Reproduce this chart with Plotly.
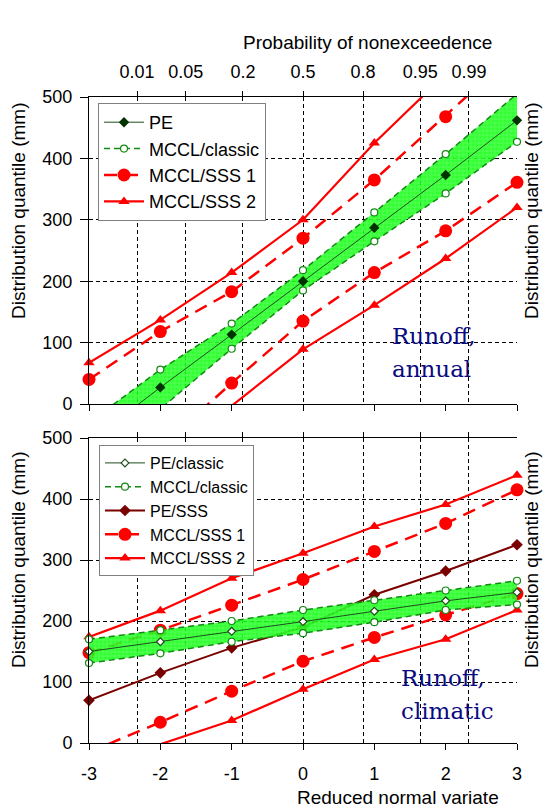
import plotly.graph_objects as go
from statistics import NormalDist

# Reduced normal variate at which the quantiles are evaluated
z = [-3, -2, -1, 0, 1, 2, 3]
z_labels = ["-3", "-2", "-1", "0", "1", "2", "3"]

# Probability-of-nonexceedence scale drawn along the top edge
prob_ticks = [0.01, 0.05, 0.2, 0.5, 0.8, 0.95, 0.99]
prob_labels = ["0.01", "0.05", "0.2", "0.5", "0.8", "0.95", "0.99"]
prob_z = [NormalDist().inv_cdf(p) for p in prob_ticks]

# Annual runoff quantiles (mm)
ann_pe = [-62, 27, 113, 200, 287, 373, 462]
ann_classic_hi = [-30, 56, 131, 218, 312, 407, 505]
ann_classic_lo = [-90, -8, 90, 185, 265, 343, 427]
ann_sss1_hi = [40, 118, 183, 270, 365, 468, 575]
ann_sss1_lo = [-170, -70, 34, 135, 214, 282, 361]
ann_sss2_hi = [67, 137, 214, 300, 425, 539, 650]
ann_sss2_lo = [-200, -100, -3, 89, 161, 237, 320]

# Climatic runoff quantiles (mm)
cli_pe_classic = [150, 166, 183, 199, 216, 233, 247]
cli_classic_hi = [170, 185, 200, 218, 234, 250, 266]
cli_classic_lo = [131, 147, 166, 180, 198, 218, 227]
cli_pe_sss = [70, 115, 156, 190, 243, 282, 325]
cli_sss1_hi = [148, 185, 226, 268, 314, 360, 415]
cli_sss1_lo = [-15, 34, 85, 134, 173, 210, 245]
cli_sss2_hi = [174, 217, 270, 311, 355, 391, 439]
cli_sss2_lo = [-45, -2, 37, 88, 137, 170, 218]

# Page geometry (px)
W, H = 547, 810
ML, MR, MT, MB = 89, 30, 97, 67


def fx(p):
    return (p - ML) / (W - ML - MR)


def fy(p):
    return (H - MB - p) / (H - MT - MB)


FONT = "Liberation Sans, Arial, sans-serif"
RED = "#ff0000"
CL_GREEN = "#138a13"
PE_GREEN = "#1e4d1e"
DARK_RED = "#7a0000"
FS = 18

fig = go.Figure()


def band(xa, ya, hi, lo):
    fig.add_trace(go.Scatter(
        x=z + z[::-1], y=hi + lo[::-1], xaxis=xa, yaxis=ya,
        mode="lines", fill="toself", line=dict(width=0),
        fillcolor="rgba(0,255,0,0.9)",
        fillpattern=dict(shape="+", size=4, solidity=0.25,
                         bgcolor="rgba(20,255,20,0.88)",
                         fgcolor="rgba(255,255,255,0.55)"),
        showlegend=False, hoverinfo="skip"))


def line(xa, ya, y, name, legend, rank, show, color, width, dash, symbol,
         size, mcolor, mline=None):
    fig.add_trace(go.Scatter(
        x=z, y=y, xaxis=xa, yaxis=ya, name=name, legend=legend,
        legendrank=rank, showlegend=show, legendgroup=legend + name,
        mode="lines+markers", cliponaxis=False,
        line=dict(color=color, width=width, dash=dash),
        marker=dict(symbol=symbol, size=size, color=mcolor,
                    line=mline or dict(width=0))))


# ---- top panel: annual ----
for i, yv in enumerate([ann_sss2_hi, ann_sss2_lo]):
    line("x2", "y2", yv, "MCCL/SSS 2", "legend", 4, i == 0, RED, 2.2,
         "solid", "triangle-up", 10, RED)
for i, yv in enumerate([ann_sss1_hi, ann_sss1_lo]):
    line("x2", "y2", yv, "MCCL/SSS 1", "legend", 3, i == 0, RED, 2.5,
         "13px,8px", "circle", 13, RED)
band("x2", "y2", ann_classic_hi, ann_classic_lo)
for i, yv in enumerate([ann_classic_hi, ann_classic_lo]):
    line("x2", "y2", yv, "MCCL/classic", "legend", 2, i == 0, CL_GREEN, 1.5,
         "6px,4px", "circle", 7, "white", dict(color=CL_GREEN, width=1.2))
# drawn against the probability axis (same range) so that axis is rendered
line("x4", "y2", ann_pe, "PE", "legend", 1, True, PE_GREEN, 1,
     "solid", "diamond", 8, "#003300")

# ---- bottom panel: climatic ----
for i, yv in enumerate([cli_sss2_hi, cli_sss2_lo]):
    line("x", "y", yv, "MCCL/SSS 2", "legend2", 5, i == 0, RED, 2.2,
         "solid", "triangle-up", 10, RED)
for i, yv in enumerate([cli_sss1_hi, cli_sss1_lo]):
    line("x", "y", yv, "MCCL/SSS 1", "legend2", 4, i == 0, RED, 2.5,
         "13px,8px", "circle", 13, RED)
line("x", "y", cli_pe_sss, "PE/SSS", "legend2", 3, True, DARK_RED, 2,
     "solid", "diamond", 9, DARK_RED)
band("x", "y", cli_classic_hi, cli_classic_lo)
for i, yv in enumerate([cli_classic_hi, cli_classic_lo]):
    line("x", "y", yv, "MCCL/classic", "legend2", 2, i == 0, CL_GREEN, 1.5,
         "6px,4px", "circle", 7, "white", dict(color=CL_GREEN, width=1.2))
line("x3", "y", cli_pe_classic, "PE/classic", "legend2", 1, True, PE_GREEN, 1,
     "solid", "diamond", 6, "white", dict(color=PE_GREEN, width=1.2))

top_dom = [fy(404), 1.0]
bot_dom = [0.0, fy(438)]

tickfont = dict(family=FONT, size=FS, color="black")
common_x = dict(range=[-3, 3], showline=True, linecolor="black", linewidth=1,
                ticks="outside", ticklen=6, tickcolor="black", zeroline=False,
                tickfont=tickfont, tickvals=z, ticktext=z_labels)
grid_x = dict(common_x, side="top", tickvals=prob_z, ticktext=prob_labels,
              showgrid=True, gridcolor="black", gridwidth=1,
              griddash="4px,3px", ticklen=5)
common_y = dict(range=[0, 500], tickvals=[0, 100, 200, 300, 400, 500],
                showline=True, linecolor="black", linewidth=1,
                ticks="outside", ticklen=8, tickcolor="black",
                showgrid=True, gridcolor="black", gridwidth=1,
                griddash="4px,3px", zeroline=False, tickfont=tickfont,
                ticklabelstandoff=4)
right_y = dict(range=[0, 500], showline=True, linecolor="#808080",
               linewidth=1, showticklabels=False, showgrid=False,
               ticks="", zeroline=False, side="right")

legend_style = dict(bgcolor="white", bordercolor="#808080", borderwidth=1,
                    xanchor="left", yanchor="top", itemwidth=40,
                    tracegroupgap=0)

fig.update_layout(
    width=W, height=H,
    margin=dict(l=ML, r=MR, t=MT, b=MB, pad=0),
    paper_bgcolor="white", plot_bgcolor="white",
    font=dict(family=FONT, size=FS, color="black"),
    xaxis=dict(common_x, anchor="y", ticklabelstandoff=8),
    xaxis2=dict(common_x, anchor="y2", showticklabels=False),
    xaxis3=dict(grid_x, anchor="y", overlaying="x", showticklabels=False),
    xaxis4=dict(grid_x, anchor="y2", overlaying="x2", ticklabelstandoff=6),
    yaxis=dict(common_y, domain=bot_dom, anchor="x"),
    yaxis2=dict(common_y, domain=top_dom, anchor="x2"),
    yaxis3=dict(right_y, domain=bot_dom, anchor="x", overlaying="y"),
    yaxis4=dict(right_y, domain=top_dom, anchor="x2", overlaying="y2"),
    legend=dict(legend_style, x=fx(98), y=fy(103),
                font=dict(family=FONT, size=18, color="black")),
    legend2=dict(legend_style, x=fx(99), y=fy(445),
                 font=dict(family=FONT, size=16, color="black")),
    showlegend=True,
)

ann = []
title_font = dict(family=FONT, size=FS + 1, color="black")


def label(text, xp, yp, angle=0, font=title_font, xanchor="center"):
    ann.append(dict(x=fx(xp), y=fy(yp), text=text, textangle=angle,
                    showarrow=False, font=font, xref="paper", yref="paper",
                    xanchor=xanchor, yanchor="middle"))


for yc in (211, 560):
    label("Distribution quantile (mm)", 18, yc, -90)
    label("Distribution quantile (mm)", 531, yc, -90)
label("Probability of nonexceedence", 367, 43)
label("Reduced normal variate", 398, 797)

serif = dict(family="DejaVu Serif, serif", size=23, color="#0a0a80")
for txt, xp, yp in [("Runoff,", 390, 336), ("annual", 390, 369),
                    ("Runoff,", 399, 678), ("climatic", 399, 711)]:
    label(txt, xp, yp, font=serif, xanchor="left")
fig.update_layout(annotations=ann)

fig.write_html("out.html")
